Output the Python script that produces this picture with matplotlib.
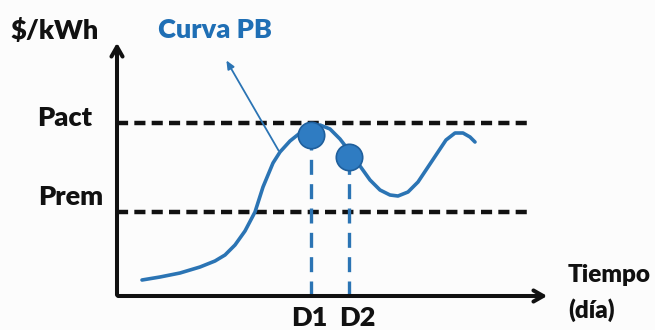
import matplotlib.pyplot as plt

# price curve over time (arbitrary units, origin at the axes corner)
t_curve = [25, 43, 63, 83, 98, 108, 118, 128, 138, 146, 156, 163, 173, 183, 193, 203, 213,
           223, 233, 243, 253, 263, 273, 281, 291, 301, 311, 321, 329, 338, 346, 353, 358]
p_curve = [16, 19, 23, 29, 35, 41, 51, 65, 84, 109, 133, 144, 155, 163, 169, 171, 167,
           157, 144, 130, 116, 106, 101, 100, 104, 114, 129, 144, 156, 163, 163, 159, 154]

p_act = 173
p_rem = 84
day_labels = ["D1", "D2"]
day_t = [194, 232]
day_p = [161, 139]

blue = "#2b74b4"
plt.rcParams['font.family'] = ['Lato', 'DejaVu Sans']

fig = plt.figure(figsize=(6.55, 3.3), dpi=100)
fig.patch.set_facecolor("#fcfcfc")
ax = fig.add_axes([0, 0, 1, 1])
ax.set_xlim(-117, 538)
ax.set_ylim(-34, 296)
ax.axis("off")

# axes drawn as arrows
head = "->,head_length=0.7,head_width=0.4"
ax.annotate("", xy=(0, 256), xytext=(0, -1.8),
            arrowprops=dict(arrowstyle=head, lw=2.9, color="#111111"))
ax.annotate("", xy=(433, 0), xytext=(-1.8, 0),
            arrowprops=dict(arrowstyle=head, lw=2.9, color="#111111"))

# reference price levels
for p in (p_act, p_rem):
    ax.plot([0, 413], [p, p], color="#111111", lw=3.2, dashes=(2.5, 1.4), solid_capstyle="butt")

# day markers with their drop lines
for t, p in zip(day_t, day_p):
    ax.plot([t, t], [0, p], color=blue, lw=2.4, dashes=(4.5, 2.8))

ax.plot(t_curve, p_curve, color=blue, lw=2.6, solid_capstyle="round", solid_joinstyle="round")
ax.plot(day_t, day_p, "o", ms=19, color="#2f7cc2", mec="#1f5f9c", mew=1.2)

# label pointer for the curve
ax.annotate("", xy=(108, 238), xytext=(163, 143),
            arrowprops=dict(arrowstyle="-|>,head_length=0.5,head_width=0.22", lw=1.3, color=blue))

kw = dict(fontsize=19.5, fontweight="heavy", color="#111111")
ax.text(-62, 266, "$/kWh", ha="center", va="center", **kw)
ax.text(98, 266, "Curva PB", ha="center", va="center", fontsize=19.5, fontweight="heavy", color="#1f6fb5")
ax.text(-25, 178, "Pact", ha="right", va="center", **kw)
ax.text(-14, 99, "Prem", ha="right", va="center", **kw)
# day labels sit under their drop lines, D2 nudged right to keep a gap
for lab, t, dx in zip(day_labels, day_t, (-2, 8)):
    ax.annotate(lab, (t, 0), xytext=(dx, -22), textcoords="offset pixels",
                ha="center", va="center", **kw)
ax.text(451, 21, "Tiempo", ha="left", va="center", fontsize=17.5, fontweight="heavy", color="#111111")
ax.text(451, -14, "(día)", ha="left", va="center", fontsize=17.5, fontweight="heavy", color="#111111")

fig.savefig("out.png", dpi=100, facecolor=fig.get_facecolor())
